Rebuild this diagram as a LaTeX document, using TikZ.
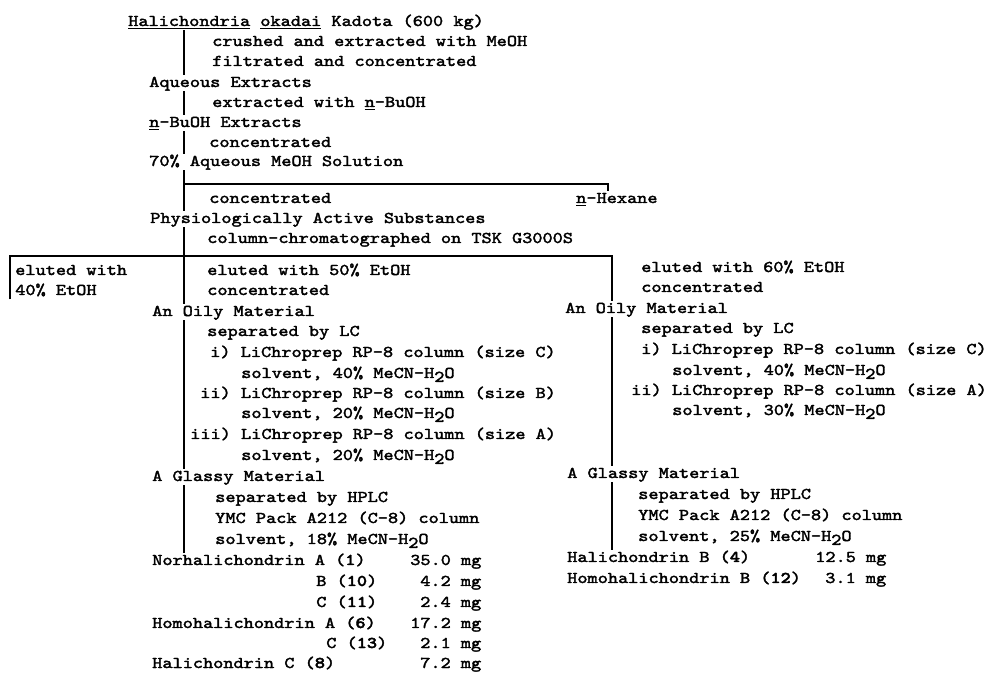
\documentclass[tikz,border=0pt]{standalone}
\usepackage{fontspec}
\newfontfamily\tw[FakeStretch=1.18, UprightFeatures={FakeBold=2.2}, BoldFont=lmmonolt10-bold.otf, BoldFeatures={FakeBold=2.5}]{lmmono10-regular.otf}
\newcommand{\hoh}{H\raisebox{-0.55ex}{2}O}
\newcommand{\cpd}[1]{(\textbf{#1})}

\begin{document}
\begin{tikzpicture}[x=0.75pt, y=-0.75pt]
	\tikzset{tx/.style={anchor=base west, inner sep=0pt, text height=8.5pt, text depth=3pt, font={\tw\fontsize{12.3pt}{14pt}\selectfont}}, ln/.style={line width=1.3pt}};

	\useasboundingbox (0,0) rectangle (990,673);

	\coordinate (tk) at (184, 0);
	\coordinate (hx) at (608, 184);
	\coordinate (bl) at (10, 256);
	\coordinate (br) at (612, 256);

	\node[tx] (src) at (128, 26) {\underline{Halichondria} \underline{okadai} Kadota (600 kg)};
	\node[tx] (s1) at (212, 46) {crushed and extracted with MeOH};
	\node[tx] (s2) at (212, 66) {filtrated and concentrated};
	\node[tx] (aq) at (149, 87) {Aqueous Extracts};
	\node[tx] (s3) at (212, 107) {extracted with \underline{n}-BuOH};
	\node[tx] (bu) at (149, 127) {\underline{n}-BuOH Extracts};
	\node[tx] (s4) at (209, 147) {concentrated};
	\node[tx] (meoh) at (149, 166) {70\% Aqueous MeOH Solution};
	\node[tx] (s5) at (209, 203) {concentrated};
	\node[tx] (hex) at (576, 203) {\underline{n}-Hexane};
	\node[tx] (pas) at (150, 223) {Physiologically Active Substances};
	\node[tx] (s6) at (207, 243) {column-chromatographed on TSK G3000S};

	\node[tx] (e40a) at (15, 275) {eluted with};
	\node[tx] (e40b) at (15, 295) {40\% EtOH};

	\node[tx] (e50) at (207, 275) {eluted with 50\% EtOH};
	\node[tx] (c50) at (207, 295) {concentrated};
	\node[tx] (oilL) at (152, 316) {An Oily Material};
	\node[tx] (lcL) at (207, 336) {separated by LC};
	\node[tx] (l1) at (210, 357) {i) LiChroprep RP-8 column (size C)};
	\node[tx] (l1s) at (241, 378) {solvent, 40\% MeCN-\hoh};
	\node[tx] (l2) at (200, 398) {ii) LiChroprep RP-8 column (size B)};
	\node[tx] (l2s) at (241, 418) {solvent, 20\% MeCN-\hoh};
	\node[tx] (l3) at (190, 439) {iii) LiChroprep RP-8 column (size A)};
	\node[tx] (l3s) at (241, 460) {solvent, 20\% MeCN-\hoh};
	\node[tx] (glL) at (152, 481) {A Glassy Material};
	\node[tx] (hpL) at (215, 502) {separated by HPLC};
	\node[tx] (ymcL) at (215, 523) {YMC Pack A212 (C-8) column};
	\node[tx] (svL) at (215, 544) {solvent, 18\% MeCN-\hoh};
	\node[tx] (nA) at (152, 565) {Norhalichondrin A \cpd{1}};
	\node[tx] (nAm) at (410, 565) {35.0 mg};
	\node[tx] (nB) at (316, 586) {B \cpd{10}};
	\node[tx] (nBm) at (420, 586) {4.2 mg};
	\node[tx] (nC) at (316, 607) {C \cpd{11}};
	\node[tx] (nCm) at (420, 607) {2.4 mg};
	\node[tx] (hA) at (152, 628) {Homohalichondrin A \cpd{6}};
	\node[tx] (hAm) at (410, 628) {17.2 mg};
	\node[tx] (hC) at (326, 648) {C \cpd{13}};
	\node[tx] (hCm) at (420, 648) {2.1 mg};
	\node[tx] (hlC) at (152, 668) {Halichondrin C \cpd{8}};
	\node[tx] (hlCm) at (420, 668) {7.2 mg};

	\node[tx] (e60) at (641, 272) {eluted with 60\% EtOH};
	\node[tx] (c60) at (641, 292) {concentrated};
	\node[tx] (oilR) at (565, 313) {An Oily Material};
	\node[tx] (lcR) at (641, 333) {separated by LC};
	\node[tx] (r1) at (641, 354) {i) LiChroprep RP-8 column (size C)};
	\node[tx] (r1s) at (672, 375) {solvent, 40\% MeCN-\hoh};
	\node[tx] (r2) at (631, 395) {ii) LiChroprep RP-8 column (size A)};
	\node[tx] (r2s) at (672, 415) {solvent, 30\% MeCN-\hoh};
	\node[tx] (glR) at (567, 478) {A Glassy Material};
	\node[tx] (hpR) at (638, 499) {separated by HPLC};
	\node[tx] (ymcR) at (638, 520) {YMC Pack A212 (C-8) column};
	\node[tx] (svR) at (638, 541) {solvent, 25\% MeCN-\hoh};
	\node[tx] (hB) at (567, 562) {Halichondrin B \cpd{4}};
	\node[tx] (hBm) at (815, 562) {12.5 mg};
	\node[tx] (hhB) at (567, 583) {Homohalichondrin B \cpd{12}};
	\node[tx] (hhBm) at (825, 583) {3.1 mg};

	\draw[ln] (src.south -| tk) -- (aq.north -| tk);
	\draw[ln] (aq.south -| tk) -- (bu.north -| tk);
	\draw[ln] (bu.south -| tk) -- (meoh.north -| tk);
	\draw[ln] (meoh.south -| tk) -- (pas.north -| tk);
	\draw[ln] (hx -| tk) -- (hx) -- (hx |- hex.north);

	\draw[ln] (pas.south -| tk) -- (oilL.north -| tk);
	\draw[ln] (e40b.south -| bl) |- (br) -- (oilR.north -| br);

	\draw[ln] (oilL.south -| tk) -- (glL.north -| tk);
	\draw[ln] (glL.south -| tk) -- (nA.north -| tk);

	\draw[ln] (oilR.south -| br) -- (glR.north -| br);
	\draw[ln] (glR.south -| br) -- (hB.north -| br);
\end{tikzpicture}
\end{document}
